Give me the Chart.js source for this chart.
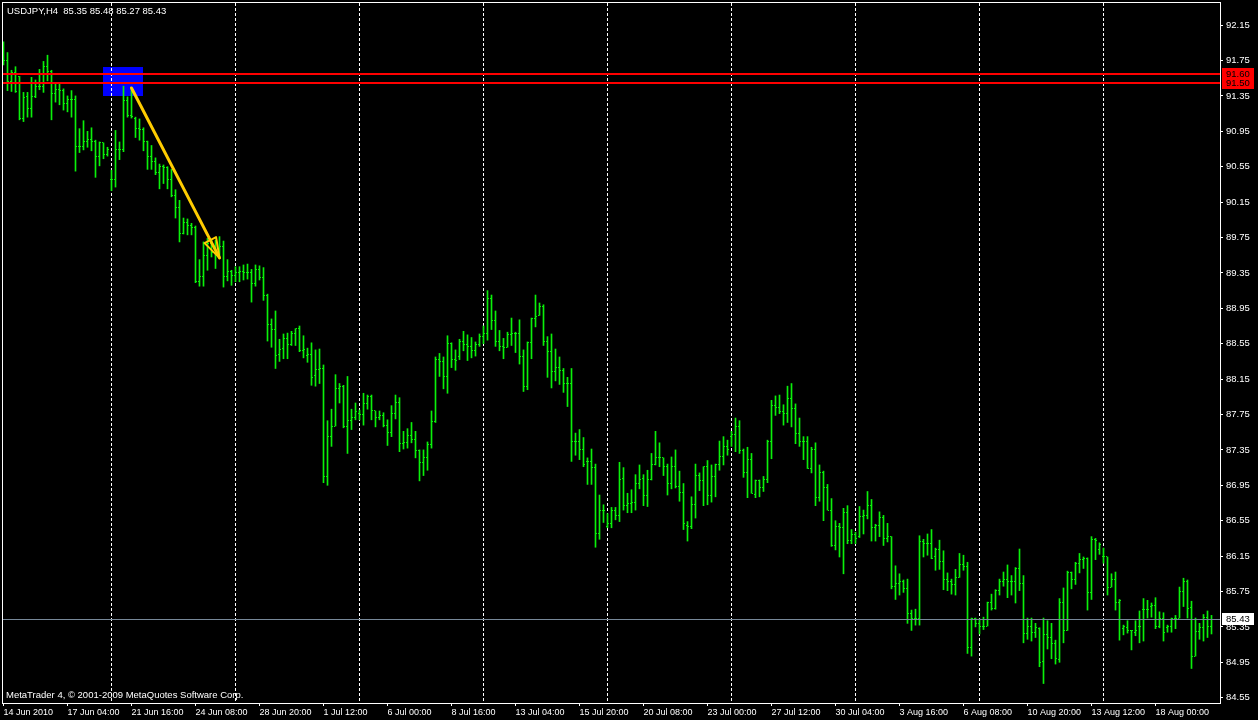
<!DOCTYPE html>
<html>
<head>
<meta charset="utf-8">
<script src="https://cdn.jsdelivr.net/npm/chart.js@4.4.1/dist/chart.umd.min.js"></script>
<style>
html,body{margin:0;padding:0;background:#000;overflow:hidden}
canvas{display:block}
</style>
</head>
<body>
<canvas id="c" width="1258" height="720"></canvas>
<script>
// ---- texts ----
const symbolTitle = 'USDJPY,H4  85.35 85.48 85.27 85.43';
const footerText = 'MetaTrader 4, \u00a9 2001-2009 MetaQuotes Software Corp.';

// ---- OHLC series (one entry per H4 bar) ----
const opens = [
91.80,91.75,91.51,91.61,91.57,91.09,91.34,91.21,91.34,91.46,
91.46,91.68,91.63,91.38,91.42,91.41,91.27,91.31,91.31,90.78,
90.78,90.84,90.86,90.84,90.67,90.82,90.69,90.40,90.40,90.75,
90.75,91.30,91.13,91.10,90.98,90.97,90.83,90.66,90.61,90.49,
90.55,90.54,90.40,90.22,90.09,89.80,89.92,89.89,89.86,89.25,
89.31,89.55,89.68,89.58,89.55,89.65,89.31,89.37,89.32,89.36,
89.37,89.35,89.35,89.23,89.39,89.30,89.09,88.77,88.71,88.43,
88.50,88.61,88.54,88.66,88.72,88.47,88.42,88.43,88.19,88.26,
88.27,87.05,87.50,87.62,88.04,88.07,87.61,87.68,87.72,87.76,
87.75,87.88,87.95,87.79,87.72,87.74,87.63,87.55,87.76,87.89,
87.42,87.43,87.51,87.47,87.34,87.21,87.26,87.41,87.67,88.37,
88.35,88.18,88.55,88.37,88.40,88.58,88.54,88.52,88.47,88.54,
88.63,88.66,89.06,88.81,88.58,88.52,88.51,88.65,88.66,88.66,
88.41,88.07,88.56,88.83,88.87,88.97,88.57,88.46,88.24,88.28,
88.25,88.10,88.10,87.44,87.44,87.36,87.22,87.22,87.15,86.40,
86.67,86.49,86.52,86.66,86.61,87.03,86.72,86.74,86.75,86.97,
87.03,86.84,87.01,87.19,87.26,87.26,87.16,86.97,87.16,86.94,
86.87,86.50,86.48,86.73,87.06,87.00,87.16,86.83,87.05,87.18,
87.27,87.39,87.50,87.52,87.61,87.34,87.09,87.24,86.85,87.00,
86.93,87.01,87.44,87.85,87.83,87.78,87.76,87.93,87.82,87.53,
87.45,87.45,87.14,87.35,86.81,87.09,86.93,86.67,86.27,86.49,
86.47,86.64,86.33,86.39,86.37,86.60,86.61,86.72,86.47,86.50,
86.59,86.35,86.37,85.81,85.84,85.86,85.78,85.50,85.44,85.45,
86.31,86.29,86.29,86.15,86.22,86.09,85.88,85.86,85.83,85.91,
86.06,86.03,85.12,85.44,85.39,85.35,85.36,85.62,85.56,85.76,
85.86,85.88,85.86,85.86,86.01,85.84,85.27,85.36,85.29,85.33,
84.96,85.26,85.23,85.16,84.98,85.62,85.31,85.96,85.88,86.07,
86.11,86.12,85.74,86.34,86.23,86.14,86.14,85.80,85.89,85.63,
85.33,85.34,85.31,85.29,85.35,85.55,85.55,85.58,85.59,85.36,
85.45,85.34,85.36,85.44,85.45,85.75,85.86,85.57,85.02,85.30,
85.34,85.46,85.35];

const highs = [
91.96,91.84,91.64,91.68,91.57,91.39,91.39,91.56,91.53,91.65,
91.74,91.81,91.64,91.49,91.49,91.43,91.35,91.41,91.35,90.98,
91.07,90.95,90.99,90.85,90.83,90.82,90.77,90.51,90.96,90.83,
91.46,91.34,91.44,91.11,91.09,90.99,90.84,90.79,90.65,90.58,
90.57,90.55,90.52,90.29,90.17,89.97,89.96,89.91,89.88,89.50,
89.70,89.74,89.72,89.72,89.76,89.71,89.50,89.38,89.42,89.42,
89.44,89.45,89.39,89.44,89.43,89.41,89.11,88.83,88.92,88.60,
88.66,88.67,88.69,88.72,88.75,88.64,88.50,88.56,88.48,88.49,
88.31,87.68,87.81,88.20,88.10,88.08,88.18,87.81,87.88,87.80,
87.99,87.97,87.97,87.79,87.79,87.77,87.69,87.85,87.97,87.94,
87.56,87.59,87.66,87.56,87.35,87.35,87.44,87.79,88.40,88.44,
88.40,88.64,88.56,88.48,88.60,88.69,88.65,88.62,88.57,88.66,
88.75,89.15,89.10,88.92,88.70,88.61,88.68,88.84,88.68,88.82,
88.48,88.57,88.84,89.10,89.01,88.99,88.63,88.66,88.49,88.40,
88.27,88.17,88.27,87.54,87.58,87.49,87.26,87.36,87.19,86.84,
86.73,86.63,86.70,86.70,87.21,87.15,86.86,86.90,87.07,87.18,
87.07,87.12,87.31,87.56,87.43,87.26,87.19,87.27,87.35,87.11,
86.97,86.54,86.82,87.19,87.09,87.16,87.23,87.18,87.19,87.45,
87.50,87.46,87.56,87.71,87.68,87.36,87.38,87.31,87.01,87.01,
87.05,87.46,87.91,87.96,87.97,87.86,88.07,88.10,87.87,87.71,
87.50,87.50,87.38,87.43,87.18,87.11,86.96,86.80,86.55,86.52,
86.69,86.72,86.45,86.42,86.71,86.67,86.88,86.79,86.51,86.65,
86.61,86.52,86.37,86.04,85.95,85.88,85.89,85.54,85.55,86.38,
86.34,86.40,86.45,86.24,86.33,86.21,85.96,85.89,86.00,86.18,
86.16,86.08,85.45,85.45,85.44,85.46,85.63,85.72,85.77,85.89,
85.97,86.05,85.93,86.02,86.23,85.93,85.45,85.45,85.39,85.34,
85.45,85.42,85.39,85.20,85.67,85.79,85.98,85.97,86.08,86.18,
86.14,86.13,86.37,86.35,86.30,86.24,86.14,85.95,85.97,85.66,
85.37,85.42,85.31,85.42,85.53,85.67,85.65,85.62,85.68,85.52,
85.51,85.37,85.45,85.48,85.80,85.90,85.88,85.64,85.45,85.39,
85.49,85.53,85.48];

const lows = [
91.70,91.41,91.40,91.39,91.08,91.06,91.11,91.11,91.33,91.42,
91.39,91.52,91.08,91.28,91.25,91.19,91.17,91.11,90.50,90.71,
90.74,90.77,90.73,90.43,90.56,90.64,90.67,90.28,90.32,90.63,
90.72,91.11,91.10,90.88,90.85,90.73,90.52,90.52,90.46,90.30,
90.36,90.30,90.21,89.97,89.70,89.79,89.78,89.78,89.24,89.20,
89.20,89.38,89.53,89.40,89.51,89.19,89.26,89.21,89.25,89.25,
89.27,89.28,89.02,89.20,89.27,89.04,88.58,88.51,88.27,88.35,
88.38,88.38,88.53,88.53,88.46,88.39,88.34,88.08,88.07,88.10,
86.98,86.95,87.39,87.62,87.88,87.60,87.31,87.58,87.69,87.69,
87.63,87.81,87.69,87.61,87.69,87.61,87.40,87.50,87.70,87.33,
87.36,87.37,87.43,87.26,87.00,87.06,87.12,87.37,87.66,88.18,
88.04,87.99,88.28,88.25,88.37,88.47,88.36,88.39,88.41,88.52,
88.55,88.59,88.71,88.52,88.47,88.38,88.51,88.53,88.45,88.32,
88.01,88.03,88.38,88.74,88.87,88.53,88.17,88.05,88.13,88.09,
88.00,87.84,87.22,87.29,87.24,87.16,86.96,86.96,86.25,86.34,
86.53,86.47,86.47,86.56,86.54,86.67,86.64,86.64,86.67,86.91,
86.72,86.71,87.01,87.18,87.16,87.06,86.84,86.91,86.92,86.77,
86.45,86.32,86.46,86.58,86.89,86.72,86.73,86.76,86.82,87.12,
87.18,87.29,87.39,87.33,87.31,87.04,86.81,86.86,86.81,86.82,
86.88,86.98,87.25,87.74,87.76,87.63,87.66,87.61,87.42,87.39,
87.24,87.14,87.09,86.72,86.77,86.55,86.67,86.26,86.22,86.14,
85.95,86.29,86.29,86.29,86.36,86.40,86.57,86.32,86.32,86.37,
86.27,86.31,85.78,85.66,85.71,85.74,85.39,85.31,85.37,85.37,
86.14,86.16,86.12,85.99,86.00,85.77,85.76,85.72,85.71,85.91,
85.99,85.05,85.02,85.35,85.27,85.32,85.36,85.54,85.55,85.71,
85.81,85.68,85.71,85.62,85.76,85.17,85.21,85.19,85.23,84.90,
84.71,85.10,84.99,84.93,84.95,85.17,85.31,85.78,85.83,85.96,
86.01,85.54,85.66,86.11,86.17,86.07,85.71,85.80,85.54,85.20,
85.26,85.28,85.09,85.25,85.17,85.19,85.45,85.46,85.33,85.34,
85.19,85.29,85.29,85.33,85.45,85.58,85.45,84.88,85.02,85.21,
85.19,85.23,85.27];

const closes = [
91.75,91.51,91.61,91.40,91.09,91.33,91.21,91.34,91.46,91.46,
91.68,91.63,91.38,91.42,91.41,91.27,91.31,91.31,90.78,90.78,
90.84,90.86,90.84,90.67,90.82,90.69,90.74,90.40,90.75,90.75,
91.30,91.13,91.12,90.98,90.97,90.83,90.66,90.61,90.49,90.55,
90.54,90.40,90.22,90.09,89.80,89.92,89.89,89.86,89.25,89.31,
89.55,89.68,89.58,89.55,89.65,89.31,89.37,89.32,89.36,89.37,
89.35,89.35,89.23,89.39,89.30,89.10,88.77,88.71,88.42,88.49,
88.61,88.54,88.66,88.72,88.47,88.48,88.43,88.17,88.26,88.27,
87.05,87.50,87.62,88.04,88.07,87.61,87.68,87.72,87.78,87.75,
87.88,87.95,87.79,87.72,87.74,87.63,87.55,87.76,87.89,87.42,
87.43,87.51,87.47,87.34,87.21,87.26,87.41,87.67,88.37,88.35,
88.18,88.55,88.37,88.36,88.58,88.54,88.52,88.47,88.54,88.63,
88.66,89.06,88.81,88.58,88.52,88.51,88.65,88.66,88.66,88.41,
88.07,88.56,88.83,88.86,88.97,88.57,88.46,88.24,88.28,88.25,
88.10,88.10,87.44,87.44,87.36,87.19,87.22,87.15,86.40,86.67,
86.66,86.52,86.66,86.61,87.02,86.72,86.74,86.75,86.97,87.02,
86.84,87.01,87.19,87.26,87.26,87.16,86.97,87.16,86.94,86.87,
86.52,86.48,86.73,87.06,87.00,87.16,86.83,87.05,87.18,87.27,
87.39,87.35,87.52,87.61,87.34,87.09,87.24,86.86,87.00,86.93,
87.01,87.44,87.85,87.83,87.78,87.76,87.93,87.82,87.53,87.45,
87.45,87.14,87.35,86.81,87.09,86.93,86.67,86.27,86.49,86.47,
86.64,86.33,86.39,86.35,86.60,86.61,86.72,86.47,86.50,86.59,
86.35,86.37,85.81,85.84,85.86,85.78,85.50,85.44,85.45,86.31,
86.29,86.29,86.12,86.22,86.09,85.88,85.86,85.83,85.91,86.06,
86.03,85.12,85.45,85.39,85.35,85.36,85.62,85.56,85.76,85.86,
85.88,85.86,85.86,86.01,85.84,85.28,85.36,85.29,85.34,84.95,
85.26,85.23,85.16,84.99,85.62,85.31,85.96,85.88,86.07,86.11,
86.12,85.74,86.34,86.33,86.28,86.14,85.80,85.89,85.63,85.65,
85.35,85.31,85.31,85.31,85.35,85.55,85.55,85.59,85.36,85.45,
85.29,85.35,85.44,85.44,85.75,85.86,85.56,85.02,85.30,85.34,
85.46,85.36,85.43];

// ---- axis ticks ----
const dateLabels = ['14 Jun 2010','17 Jun 04:00','21 Jun 16:00','24 Jun 08:00','28 Jun 20:00',
  '1 Jul 12:00','6 Jul 00:00','8 Jul 16:00','13 Jul 04:00','15 Jul 20:00','20 Jul 08:00',
  '23 Jul 00:00','27 Jul 12:00','30 Jul 04:00','3 Aug 16:00','6 Aug 08:00','10 Aug 20:00',
  '13 Aug 12:00','18 Aug 00:00'];
const dateTickBars = [0,16,32,48,64,80,96,112,128,144,160,176,192,208,224,240,256,272,288];
const separatorBars = [27,58,89,120,151,182,213,244,275];
const priceTicks = [92.15,91.75,91.35,90.95,90.55,90.15,89.75,89.35,88.95,88.55,
  88.15,87.75,87.35,86.95,86.55,86.15,85.75,85.35,84.95,84.55];
const priceMin = 84.49, priceMax = 92.40;
const barMin = -0.125, barMax = 304.125;

// ---- drawn objects ----
const redLevels = [91.60, 91.50];
const bidLevel = 85.43;
const boxBars = [24.9, 34.9];
const boxPrices = [91.68, 91.35];
const arrowBars = [32, 54];
const arrowPrices = [91.44, 89.52];

// ---- styles ----
const BAR_COLOR = '#0af00a';
const FONT_FAMILY = '"Liberation Sans", Arial, sans-serif';
const FONT = '9.5px ' + FONT_FAMILY;

const mt4Plugin = {
  id: 'mt4',
  beforeDraw(chart) {
    const {ctx, width, height} = chart;
    ctx.save();
    ctx.fillStyle = '#000';
    ctx.fillRect(0, 0, width, height);
    ctx.restore();
  },
  beforeDatasetsDraw(chart) {
    const {ctx, chartArea: a, scales: {x, y}} = chart;
    ctx.save();
    ctx.beginPath(); ctx.rect(a.left, a.top, a.right - a.left, a.bottom - a.top); ctx.clip();
    const bx0 = Math.round(x.getPixelForValue(boxBars[0]));
    const bx1 = Math.round(x.getPixelForValue(boxBars[1]));
    const by0 = Math.round(y.getPixelForValue(boxPrices[0]));
    const by1 = Math.round(y.getPixelForValue(boxPrices[1]));
    ctx.fillStyle = '#0000ff';
    ctx.fillRect(bx0, by0, bx1 - bx0, by1 - by0);
    ctx.strokeStyle = '#ffffff';
    ctx.lineWidth = 1;
    ctx.setLineDash([3, 2]);
    separatorBars.forEach(b => {
      const px = Math.floor(x.getPixelForValue(b)) + 0.5;
      ctx.beginPath(); ctx.moveTo(px, a.top); ctx.lineTo(px, a.bottom); ctx.stroke();
    });
    ctx.restore();
  },
  afterDatasetsDraw(chart) {
    const {ctx, chartArea: a, scales: {x, y}} = chart;
    ctx.save();
    ctx.beginPath(); ctx.rect(a.left, a.top, a.right - a.left, a.bottom - a.top); ctx.clip();
    ctx.fillStyle = BAR_COLOR;
    for (let i = 0; i < opens.length; i++) {
      const px = Math.floor(x.getPixelForValue(i));
      const oy = Math.floor(y.getPixelForValue(opens[i]));
      const cy = Math.floor(y.getPixelForValue(closes[i]));
      ctx.fillRect(px - 1, oy, 1, 1);
      ctx.fillRect(px + 1, cy, 1, 1);
    }
    ctx.fillStyle = '#ff0000';
    redLevels.forEach(v => {
      const py = Math.round(y.getPixelForValue(v));
      ctx.fillRect(a.left, py - 1, a.right - a.left, 2);
    });
    ctx.fillStyle = '#778899';
    const gy = Math.floor(y.getPixelForValue(bidLevel));
    ctx.fillRect(a.left, gy, a.right - a.left, 1);
    const ax0 = x.getPixelForValue(arrowBars[0]), ay0 = y.getPixelForValue(arrowPrices[0]);
    const ax1 = x.getPixelForValue(arrowBars[1]), ay1 = y.getPixelForValue(arrowPrices[1]);
    ctx.strokeStyle = '#ffcc00';
    ctx.lineWidth = 3;
    ctx.lineCap = 'round';
    ctx.lineJoin = 'round';
    ctx.beginPath(); ctx.moveTo(ax0, ay0); ctx.lineTo(ax1, ay1); ctx.stroke();
    const ang = Math.atan2(ay1 - ay0, ax1 - ax0);
    const L = 20, W = 6.5;
    const hx = ax1 - L * Math.cos(ang), hy = ay1 - L * Math.sin(ang);
    const nx = -Math.sin(ang), ny = Math.cos(ang);
    ctx.lineWidth = 2;
    ctx.beginPath();
    ctx.moveTo(ax1, ay1);
    ctx.lineTo(hx + W * nx, hy + W * ny);
    ctx.lineTo(hx - W * nx, hy - W * ny);
    ctx.closePath();
    ctx.stroke();
    ctx.restore();
  },
  afterDraw(chart) {
    const {ctx, chartArea: a, scales: {y}} = chart;
    ctx.save();
    ctx.strokeStyle = '#ffffff';
    ctx.lineWidth = 1;
    ctx.strokeRect(a.left - 0.5, a.top - 0.5, a.right - a.left + 1, a.bottom - a.top + 1);
    ctx.font = FONT;
    ctx.textBaseline = 'middle';
    ctx.textAlign = 'left';
    redLevels.forEach(v => {
      const py = Math.round(y.getPixelForValue(v));
      ctx.fillStyle = '#ff0000';
      ctx.fillRect(a.right + 2, py - 6, 32, 12);
    });
    redLevels.forEach(v => {
      const py = Math.round(y.getPixelForValue(v));
      ctx.fillStyle = '#000000';
      ctx.fillText(v.toFixed(2), a.right + 6, py);
    });
    const gy = Math.floor(y.getPixelForValue(bidLevel));
    ctx.fillStyle = '#ffffff';
    ctx.fillRect(a.right + 2, gy - 6, 32, 12);
    ctx.fillStyle = '#000000';
    ctx.fillText(bidLevel.toFixed(2), a.right + 6, gy);
    ctx.fillStyle = '#ffffff';
    ctx.textBaseline = 'alphabetic';
    ctx.fillText(symbolTitle, a.left + 4, a.top + 11);
    ctx.fillText(footerText, a.left + 3, a.bottom - 5);
    ctx.restore();
  }
};

const barData = highs.map((h, i) => ({x: i, y: [lows[i], h]}));

new Chart(document.getElementById('c'), {
  type: 'bar',
  data: {
    datasets: [{
      data: barData,
      backgroundColor: BAR_COLOR,
      borderWidth: 0,
      barThickness: 1,
      grouped: false
    }]
  },
  options: {
    responsive: false,
    animation: false,
    devicePixelRatio: 1,
    events: [],
    layout: {padding: {left: 3, top: 3, right: 0, bottom: 0}},
    plugins: {legend: {display: false}, tooltip: {enabled: false}, title: {display: false}},
    scales: {
      x: {
        type: 'linear',
        position: 'bottom',
        offset: false,
        min: barMin,
        max: barMax,
        afterBuildTicks: s => { s.ticks = dateTickBars.map(v => ({value: v})); },
        afterFit: s => { s.height = 17; s.paddingLeft = 0; s.paddingRight = 0; },
        grid: {display: true, offset: false, drawOnChartArea: false, drawTicks: true, tickLength: 3, color: '#ffffff', lineWidth: 1},
        border: {display: false},
        ticks: {
          autoSkip: false, maxRotation: 0, minRotation: 0, align: 'start', padding: 1,
          color: '#ffffff', font: {family: FONT_FAMILY, size: 9},
          callback: (v, i) => dateLabels[i]
        }
      },
      y: {
        type: 'linear',
        position: 'right',
        min: priceMin,
        max: priceMax,
        afterBuildTicks: s => { s.ticks = priceTicks.map(v => ({value: v})); },
        afterFit: s => { s.width = 38; s.paddingTop = 0; s.paddingBottom = 0; },
        grid: {display: true, drawOnChartArea: false, drawTicks: true, tickLength: 3, color: '#ffffff', lineWidth: 1},
        border: {display: false},
        ticks: {
          padding: 3, color: '#ffffff', font: {family: FONT_FAMILY, size: 9.5},
          callback: v => Number(v).toFixed(2)
        }
      }
    }
  },
  plugins: [mt4Plugin]
});
</script>
</body>
</html>
